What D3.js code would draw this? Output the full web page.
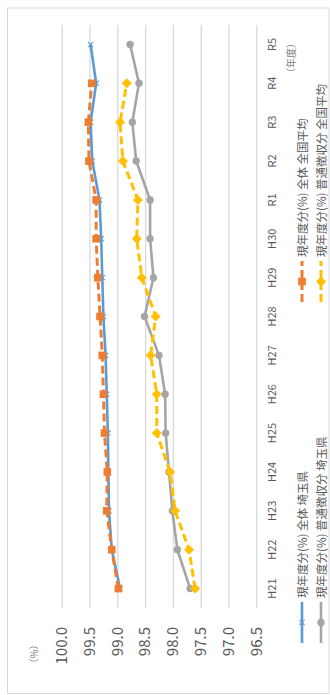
<!DOCTYPE html>
<html>
<head>
<meta charset="utf-8">
<script src="https://cdn.jsdelivr.net/npm/d3@7"></script>
<style>
  body { margin: 0; background: #fff; }
  svg { display: block; }
  text { font-family: "Noto Sans CJK JP", "Noto Sans", sans-serif; }
</style>
</head>
<body>
<div id="chart"></div>
<script>
// Fiscal years (平成21年度 〜 令和5年度)
const categories = ["H21", "H22", "H23", "H24", "H25", "H26", "H27", "H28", "H29", "H30", "R1", "R2", "R3", "R4", "R5"];

// 現年度分 collection rate (%)
const saitamaAll      = [98.95, 99.10, 99.15, 99.16, 99.17, 99.19, 99.21, 99.25, 99.27, 99.29, 99.32, 99.45, 99.48, 99.38, 99.48];
const nationalAll     = [98.98, 99.10, 99.19, 99.18, 99.23, 99.25, 99.27, 99.31, 99.35, 99.38, 99.38, 99.51, 99.52, 99.46, null];
const saitamaRegular  = [97.69, 97.92, 98.01, 98.07, 98.13, 98.14, 98.25, 98.51, 98.35, 98.41, 98.41, 98.66, 98.73, 98.61, 98.77];
const nationalRegular = [97.60, 97.71, 97.96, 98.05, 98.29, 98.29, 98.40, 98.31, 98.56, 98.65, 98.63, 98.90, 98.95, 98.83, null];

const valueTicks = [100.0, 99.5, 99.0, 98.5, 98.0, 97.5, 97.0, 96.5];

const seriesNames = [
  "現年度分(%) 全体 埼玉県",
  "現年度分(%) 全体 全国平均",
  "現年度分(%) 普通徴収分 埼玉県",
  "現年度分(%) 普通徴収分 全国平均"
];

const series = [
  { name: seriesNames[0], values: saitamaAll,      color: "#5B9BD5", dash: null,  marker: "x" },
  { name: seriesNames[1], values: nationalAll,     color: "#ED7D31", dash: "8,4", marker: "square" },
  { name: seriesNames[2], values: saitamaRegular,  color: "#A5A5A5", dash: null,  marker: "circle" },
  { name: seriesNames[3], values: nationalRegular, color: "#FFC000", dash: "8,4", marker: "diamond" }
];

// Page is portrait; the chart is laid out landscape and turned a quarter turn.
const pageW = 330, pageH = 695;

const svg = d3.select("#chart").append("svg")
  .attr("width", pageW).attr("height", pageH);

const g = svg.append("g")
  .attr("transform", `translate(0,${pageH}) rotate(-90)`);

// chart frame
g.append("rect")
  .attr("x", 1.5).attr("y", 7.5)
  .attr("width", 685.5).attr("height", 321.5)
  .attr("fill", "#fff").attr("stroke", "#d9d9d9").attr("stroke-width", 1);

const plot = { left: 87, right: 670, top: 61.7, bottom: 256.3 };

const x = d3.scaleBand().domain(categories).range([plot.left, plot.right]);
const y = d3.scaleLinear().domain([96.5, 100]).range([plot.bottom, plot.top]);

// value axis with gridlines
const yAxis = g.append("g")
  .attr("transform", `translate(${plot.left},0)`)
  .call(d3.axisLeft(y)
    .tickValues(valueTicks)
    .tickFormat(d3.format(".1f"))
    .tickSize(-(plot.right - plot.left))
    .tickPadding(19));
yAxis.select(".domain").remove();
yAxis.selectAll(".tick line").attr("stroke", "#d9d9d9").attr("stroke-width", 1.3);
yAxis.selectAll(".tick text")
  .attr("fill", "#595959").attr("font-size", 15)
  .style("font-family", "'Noto Sans CJK JP', sans-serif");

// category axis
const xAxis = g.append("g")
  .attr("transform", `translate(0,${plot.bottom})`)
  .call(d3.axisBottom(x).tickSize(0).tickPadding(16));
xAxis.select(".domain").remove();
xAxis.selectAll(".tick text")
  .attr("dy", "0.35em")
  .attr("fill", "#595959").attr("font-size", 11)
  .style("font-family", "'Noto Sans CJK JP', sans-serif");

// unit labels
g.append("text")
  .attr("x", 41).attr("y", 33)
  .attr("text-anchor", "middle").attr("dominant-baseline", "central")
  .attr("fill", "#7f7f7f").attr("font-size", 10)
  .text("（%）");
g.append("text")
  .attr("x", 637).attr("y", 290)
  .attr("text-anchor", "middle").attr("dominant-baseline", "central")
  .attr("fill", "#7f7f7f").attr("font-size", 10)
  .text("（年度）");

function drawMarker(sel, type, color, cx, cy) {
  if (type === "x") {
    const s = 2.6;
    sel.append("path")
      .attr("d", `M${cx - s},${cy - s}L${cx + s},${cy + s}M${cx - s},${cy + s}L${cx + s},${cy - s}`)
      .attr("stroke", color).attr("stroke-width", 1.1).attr("fill", "none");
  } else if (type === "square") {
    sel.append("rect")
      .attr("x", cx - 3.8).attr("y", cy - 3.8)
      .attr("width", 7.6).attr("height", 7.6)
      .attr("fill", color);
  } else if (type === "circle") {
    sel.append("circle")
      .attr("cx", cx).attr("cy", cy).attr("r", 3.7)
      .attr("fill", color);
  } else if (type === "diamond") {
    const s = 5;
    sel.append("path")
      .attr("d", `M${cx},${cy - s}L${cx + s},${cy}L${cx},${cy + s}L${cx - s},${cy}Z`)
      .attr("fill", color);
  }
}

const line = d3.line()
  .defined(d => d.v != null)
  .x(d => x(d.c) + x.bandwidth() / 2)
  .y(d => y(d.v));

series.forEach(s => {
  const pts = categories.map((c, i) => ({ c, v: s.values[i] }));
  const sg = g.append("g");
  sg.append("path")
    .datum(pts)
    .attr("d", line)
    .attr("fill", "none")
    .attr("stroke", s.color)
    .attr("stroke-width", s.dash ? 3 : 2.6)
    .attr("stroke-dasharray", s.dash)
    .attr("stroke-linejoin", "round");
  pts.filter(p => p.v != null).forEach(p => {
    drawMarker(sg, s.marker, s.color, x(p.c) + x.bandwidth() / 2, y(p.v));
  });
});

// legend, two rows of two entries
const legendCols = [52, 393];
const legendRows = [302, 321];
series.forEach((s, i) => {
  const lx = legendCols[i % 2], ly = legendRows[Math.floor(i / 2)];
  const lg = g.append("g");
  lg.append("line")
    .attr("x1", lx).attr("x2", lx + 41)
    .attr("y1", ly).attr("y2", ly)
    .attr("stroke", s.color)
    .attr("stroke-width", s.dash ? 3 : 2.6)
    .attr("stroke-dasharray", s.dash);
  drawMarker(lg, s.marker, s.color, lx + 20.5, ly);
  lg.append("text")
    .attr("x", lx + 45).attr("y", ly)
    .attr("dominant-baseline", "central")
    .attr("fill", "#595959").attr("font-size", 11.5)
    .text(s.name);
});
</script>
</body>
</html>
